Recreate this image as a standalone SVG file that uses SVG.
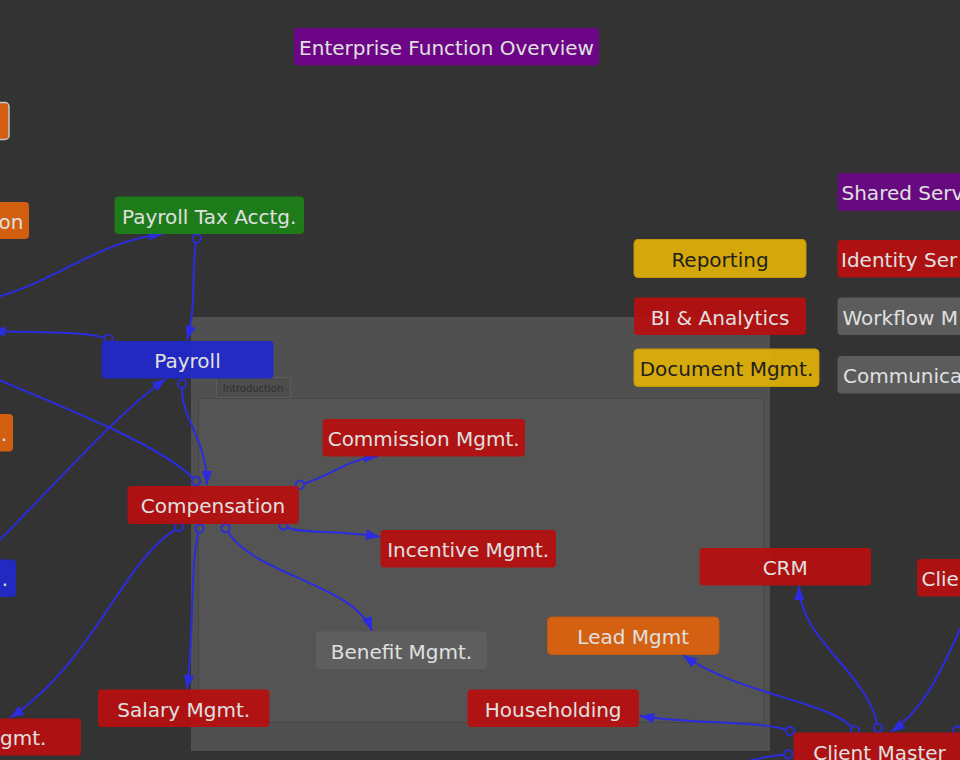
<svg xmlns="http://www.w3.org/2000/svg" width="960" height="760" viewBox="0 0 960 760">
<style>
.n{fill-opacity:0.92}
.red{fill:#b80e0e}
.blue{fill:#2128cc}
.green{fill:#1c8118}
.purple{fill:#6c0686}
.orange{fill:#e0620c}
.yellow{fill:#e2b106}
.grey{fill:#5f5f5f}
.t{font-family:"DejaVu Sans","Liberation Sans",sans-serif;font-size:20px;fill:#e0e0e0;text-anchor:middle}
.tl{text-anchor:start}
.te{text-anchor:end}
.dk{fill:#1e1e1e}
.c{fill:none;stroke:#2b2be0;stroke-width:2}
</style>
<defs>
<marker id="arr" markerUnits="userSpaceOnUse" viewBox="-15 -6 16 12" refX="0" refY="0" markerWidth="16" markerHeight="12" orient="auto" overflow="visible">
<path d="M0,0 L-14,-5.2 L-14,5.2 Z" fill="#2b2be0"/>
</marker>
<marker id="dot" markerUnits="userSpaceOnUse" viewBox="-10 -6 12 12" refX="0" refY="0" markerWidth="12" markerHeight="12" orient="auto" overflow="visible">
<circle cx="-4.5" cy="0" r="4.2" fill="none" stroke="#2b2be0" stroke-width="1.8"/>
</marker>
</defs>
<rect x="0" y="0" width="960" height="760" fill="#333333"/>

<g id="panel-introduction">
<rect x="191" y="317" width="579" height="434" fill="#505050"/>
<rect x="198.5" y="398.5" width="565" height="324" fill="#545454" stroke="#474747" stroke-width="1"/>
<rect x="216.5" y="377.5" width="74" height="20" fill="#4d4d4d" stroke="#5c5c5c" stroke-width="1"/>
<text x="253" y="392" font-family="DejaVu Sans, sans-serif" font-size="10" fill="#303030" text-anchor="middle">Introduction</text>
</g>

<g id="connectors">
<path class="c" marker-start="url(#dot)" marker-end="url(#arr)" d="M196,242.8 C191,270 197,305 187,340"/>
<path class="c" marker-end="url(#arr)" d="M-10,299 C50,285 100,240 163,234"/>
<path class="c" marker-start="url(#dot)" marker-end="url(#arr)" d="M104,337.6 C80,331 40,333 -9,331"/>
<path class="c" marker-start="url(#dot)" d="M193,478 C160,445 70,410 -20,372"/>
<path class="c" marker-start="url(#dot)" marker-end="url(#arr)" d="M182,388.5 C182,420 207,440 207,485"/>
<path class="c" marker-end="url(#arr)" d="M-10,550 C50,490 120,410 166,379"/>
<path class="c" marker-start="url(#dot)" marker-end="url(#arr)" d="M304.2,483.5 C330,476 350,458 378,456.5"/>
<path class="c" marker-start="url(#dot)" marker-end="url(#arr)" d="M287.5,527.5 C300,534 340,530 380,537"/>
<path class="c" marker-start="url(#dot)" marker-end="url(#arr)" d="M228,532 C255,575 355,585 372,631"/>
<path class="c" marker-start="url(#dot)" marker-end="url(#arr)" d="M198.5,532.7 C190,565 194,640 187,689"/>
<path class="c" marker-start="url(#dot)" marker-end="url(#arr)" d="M175.4,529.4 C120,565 95,660 10,718"/>
<path class="c" marker-start="url(#dot)" marker-end="url(#arr)" d="M785.7,729.4 C760,721 690,724 640,716"/>
<path class="c" marker-start="url(#dot)" marker-end="url(#arr)" d="M852,727.4 C825,700 740,695 683,655"/>
<path class="c" marker-start="url(#dot)" marker-end="url(#arr)" d="M877,723.4 C865,670 800,640 799,586"/>
<path class="c" marker-end="url(#arr)" d="M968,612 C945,660 930,705 891,732"/>
<path class="c" marker-start="url(#dot)" d="M961.5,730.7 L980,730.7"/>
<path class="c" marker-start="url(#dot)" d="M783.8,754.7 C770,756 755,758 735,765"/>
</g>

<g id="node-title"><rect class="purple" x="294" y="28" width="305" height="37.5" rx="4"/><text class="t" x="446.5" y="55">Enterprise Function Overview</text></g>
<g id="node-left-top"><rect class="n orange" x="-20" y="102.5" width="29" height="37" rx="4" stroke="#c8c8c8" stroke-width="1.5"/></g>
<g id="node-left-on"><rect class="n orange" x="-150" y="202" width="179" height="37" rx="4"/><text class="t te" x="23.5" y="229">on</text></g>
<g id="node-payroll-tax"><rect class="n green" x="114.5" y="196.5" width="189.5" height="37.5" rx="4"/><text class="t" x="209.2" y="223.5">Payroll Tax Acctg.</text></g>
<g id="node-payroll"><rect class="n blue" x="101.5" y="341" width="172" height="37.5" rx="4"/><text class="t" x="187.5" y="368">Payroll</text></g>
<g id="node-left-orange2"><rect class="n orange" x="-150" y="414" width="163" height="37.5" rx="4"/><text class="t te" x="7" y="441">.</text></g>
<g id="node-compensation"><rect class="n red" x="127.5" y="486" width="171.5" height="38" rx="4"/><text class="t" x="213" y="513">Compensation</text></g>
<g id="node-commission"><rect class="n red" x="322.5" y="419" width="202.5" height="37.5" rx="4"/><text class="t" x="423.7" y="446">Commission Mgmt.</text></g>
<g id="node-incentive"><rect class="n red" x="380.5" y="530" width="175.5" height="37.5" rx="4"/><text class="t" x="468.2" y="557">Incentive Mgmt.</text></g>
<g id="node-left-blue"><rect class="n blue" x="-150" y="559.5" width="166" height="37.5" rx="4"/><text class="t te" x="8" y="586">.</text></g>
<g id="node-benefit"><rect class="n grey" x="316" y="631.5" width="171" height="37.5" rx="4"/><text class="t" x="401.5" y="658.5">Benefit Mgmt.</text></g>
<g id="node-salary"><rect class="n red" x="98" y="689.5" width="171.5" height="37.5" rx="4"/><text class="t" x="183.7" y="716.5">Salary Mgmt.</text></g>
<g id="node-left-gmt"><rect class="n red" x="-100" y="718.5" width="181" height="37" rx="4"/><text class="t tl" x="0" y="745.3">gmt.</text></g>
<g id="node-reporting"><rect class="n yellow" x="634" y="239.5" width="172" height="38" rx="4" stroke="#c09808" stroke-width="1"/><text class="t dk" x="720" y="266.8">Reporting</text></g>
<g id="node-bi"><rect class="n red" x="634" y="297.5" width="172" height="37.5" rx="4"/><text class="t" x="720" y="324.5">BI &amp; Analytics</text></g>
<g id="node-document"><rect class="n yellow" x="634" y="349" width="185" height="37.5" rx="4" stroke="#c09808" stroke-width="1"/><text class="t dk" x="726.5" y="376">Document Mgmt.</text></g>
<g id="node-shared"><rect class="n purple" x="837.5" y="173" width="200" height="38" rx="4"/><text class="t tl" x="841.5" y="200">Shared Serv</text></g>
<g id="node-identity"><rect class="n red" x="837.5" y="240" width="200" height="37.5" rx="4"/><text class="t tl" x="841" y="267">Identity Ser</text></g>
<g id="node-workflow"><rect class="n grey" x="837.5" y="297.5" width="200" height="37.5" rx="4"/><text class="t tl" x="842.5" y="324.5">Workflow M</text></g>
<g id="node-communica"><rect class="n grey" x="837.5" y="356" width="200" height="37.5" rx="4"/><text class="t tl" x="843" y="383">Communica</text></g>
<g id="node-crm"><rect class="n red" x="699.5" y="548" width="171.5" height="37.5" rx="4"/><text class="t" x="785.2" y="575">CRM</text></g>
<g id="node-clie"><rect class="n red" x="917" y="559" width="100" height="37.5" rx="4"/><text class="t tl" x="921.5" y="586">Clie</text></g>
<g id="node-lead"><rect class="n orange" x="547.5" y="617" width="171.5" height="37.5" rx="4" stroke="#c05810" stroke-width="1"/><text class="t" x="633.2" y="644">Lead Mgmt</text></g>
<g id="node-householding"><rect class="n red" x="467.5" y="689.5" width="171.5" height="37.5" rx="4"/><text class="t" x="553.2" y="716.5">Householding</text></g>
<g id="node-client-master"><rect class="n red" x="793.5" y="732.5" width="172" height="37.5" rx="4"/><text class="t" x="879.5" y="759.5">Client Master</text></g>
</svg>
